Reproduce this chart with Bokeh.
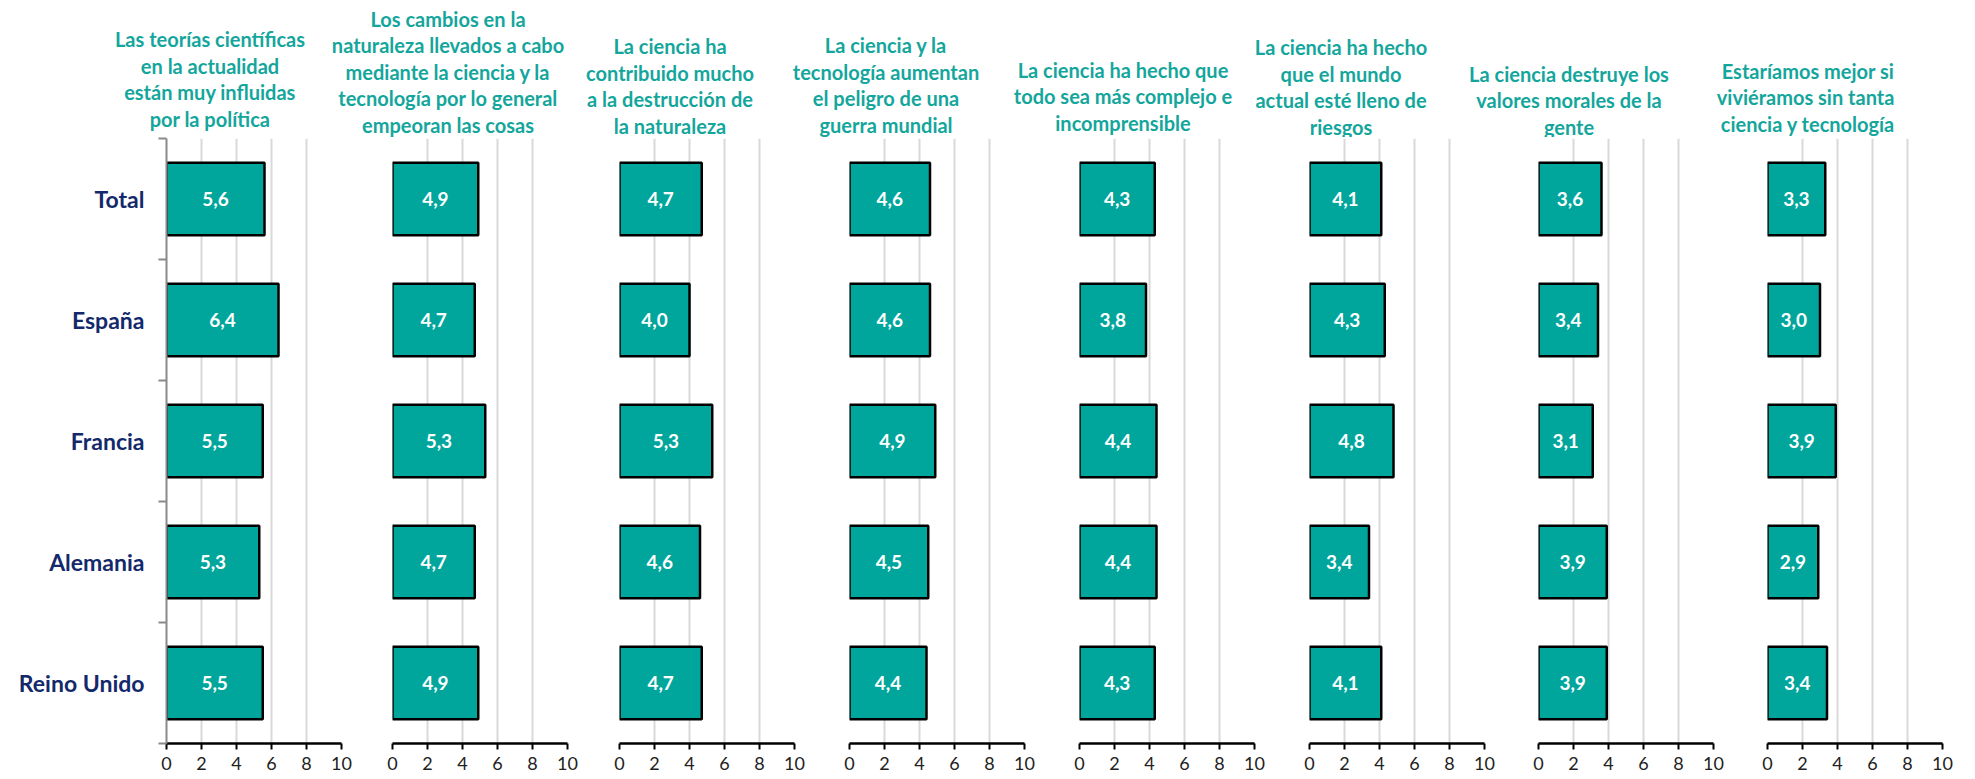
from bokeh.plotting import figure
from bokeh.layouts import column, row
from bokeh.models import Range1d, FixedTicker, ColumnDataSource
from bokeh.core.properties import value
from bokeh.embed import file_html
from bokeh.resources import INLINE

# ---------------- data ----------------
countries = ["Total", "España", "Francia", "Alemania", "Reino Unido"]
titles = [
    ["Las teorías científicas", "en la actualidad", "están muy influidas", "por la política"],
    ["Los cambios en la", "naturaleza llevados a cabo", "mediante la ciencia y la",
     "tecnología por lo general", "empeoran las cosas"],
    ["La ciencia ha", "contribuido mucho", "a la destrucción de", "la naturaleza"],
    ["La ciencia y la", "tecnología aumentan", "el peligro de una", "guerra mundial"],
    ["La ciencia ha hecho que", "todo sea más complejo e", "incomprensible"],
    ["La ciencia ha hecho", "que el mundo", "actual esté lleno de", "riesgos"],
    ["La ciencia destruye los", "valores morales de la", "gente"],
    ["Estaríamos mejor si", "viviéramos  sin tanta", "ciencia y tecnología"],
]
total = [5.6, 4.9, 4.7, 4.6, 4.3, 4.1, 3.6, 3.3]
espana = [6.4, 4.7, 4.0, 4.6, 3.8, 4.3, 3.4, 3.0]
francia = [5.5, 5.3, 5.3, 4.9, 4.4, 4.8, 3.1, 3.9]
alemania = [5.3, 4.7, 4.6, 4.5, 4.4, 3.4, 3.9, 2.9]
reino_unido = [5.5, 4.9, 4.7, 4.4, 4.3, 4.1, 3.9, 3.4]
x_ticks = [0, 2, 4, 6, 8, 10]

# ---------------- layout / style ----------------
PAGE_W = 1975
TITLE_H = 137
FRAME_LEFT = [166, 392, 619, 849, 1079, 1309, 1538, 1767]   # page px
FRAME_W = 175
FRAME_TOP = 1
FRAME_H = 605
TITLE_OFFSET = [-44, -32, -37, -51, -44, -56, -57, -47]
TITLE_LAST_Y = [118, 124, 125, 124, 122, 126, 126, 123]
LINE_PITCH = 26.5

BAR = "#00A69C"
TITLE_COL = "#14A69C"
NAVY = "#13296B"
GRID = "#D9D9D9"
FONT = "Lato"

series = [total, espana, francia, alemania, reino_unido]

# ---------------- title strip ----------------
tf = figure(width=PAGE_W, height=TITLE_H, x_range=Range1d(0, PAGE_W),
            y_range=Range1d(TITLE_H, 0), toolbar_location=None,
            output_backend="svg", min_border=0, x_axis_location=None,
            y_axis_location=None, outline_line_color=None)
tf.grid.visible = False
tx, ty, tt = [], [], []
for i, lines in enumerate(titles):
    cx = FRAME_LEFT[i] + FRAME_W / 2 + TITLE_OFFSET[i]
    n = len(lines)
    for k, line in enumerate(lines):
        tx.append(cx)
        ty.append(TITLE_LAST_Y[i] - (n - 1 - k) * LINE_PITCH)
        tt.append(line)
tf.text(x=tx, y=ty, text=tt, text_font=value(FONT), text_font_style="bold",
        text_font_size="20px", text_color=TITLE_COL, text_align="center",
        text_baseline="middle")

# ---------------- panels ----------------
bounds = [0] + [FRAME_LEFT[i] - 20 for i in range(1, 8)] + [PAGE_W]
panels = []
for i in range(8):
    start, end = bounds[i], bounds[i + 1]
    vals = [s[i] for s in series]
    src = ColumnDataSource(dict(
        y=[k + 0.5 for k in range(len(countries))],
        v=vals,
        half=[v / 2 for v in vals],
        lab=[f"{v:.1f}".replace(".", ",") for v in vals],
    ))
    p = figure(frame_width=FRAME_W, frame_height=FRAME_H,
               x_range=Range1d(0, 10), y_range=Range1d(len(countries), 0),
               toolbar_location=None, output_backend="svg",
               min_border_left=FRAME_LEFT[i] - start,
               min_border_right=end - FRAME_LEFT[i] - FRAME_W,
               min_border_top=FRAME_TOP, min_border_bottom=0,
               y_axis_location="left" if i == 0 else None,
               outline_line_color=None, background_fill_color="white")
    p.ygrid.visible = False
    p.xgrid.ticker = FixedTicker(ticks=x_ticks)
    p.xgrid.grid_line_color = GRID
    p.xgrid.grid_line_width = 2

    xa = p.xaxis[0]
    xa.ticker = FixedTicker(ticks=x_ticks)
    xa.axis_line_color = "black"
    xa.axis_line_width = 2.5
    xa.major_tick_line_color = "black"
    xa.major_tick_line_width = 2
    xa.major_tick_out = 6
    xa.major_tick_in = 0
    xa.minor_tick_line_color = None
    xa.major_label_text_font = FONT
    xa.major_label_text_font_size = "18px"
    xa.major_label_text_color = "#222222"
    xa.major_label_standoff = 7

    if i == 0:
        ya = p.yaxis[0]
        ya.ticker = FixedTicker(ticks=[k + 0.5 for k in range(len(countries))],
                                minor_ticks=list(range(len(countries) + 1)))
        ya.major_label_overrides = {k + 0.5: c for k, c in enumerate(countries)}
        ya.axis_line_color = "#8A8A8A"
        ya.axis_line_width = 2
        ya.major_tick_line_color = None
        ya.major_tick_out = 0
        ya.major_tick_in = 0
        ya.minor_tick_line_color = "#8A8A8A"
        ya.minor_tick_line_width = 2
        ya.minor_tick_out = 8
        ya.minor_tick_in = 0
        ya.major_label_standoff = 14
        ya.major_label_text_font = FONT
        ya.major_label_text_font_style = "bold"
        ya.major_label_text_font_size = "23px"
        ya.major_label_text_color = NAVY

    p.hbar(y="y", left=0, right="v", height=0.6, source=src,
           fill_color=BAR, line_color="black", line_width=2.5)
    p.text(x="half", y="y", text="lab", source=src, text_font=value(FONT),
           text_font_style="bold", text_font_size="19px", text_color="white",
           text_align="center", text_baseline="middle")
    panels.append(p)

layout = column(tf, row(*panels, spacing=0), spacing=0)
open("out.html", "w").write(file_html(layout, INLINE, title="Chart"))
